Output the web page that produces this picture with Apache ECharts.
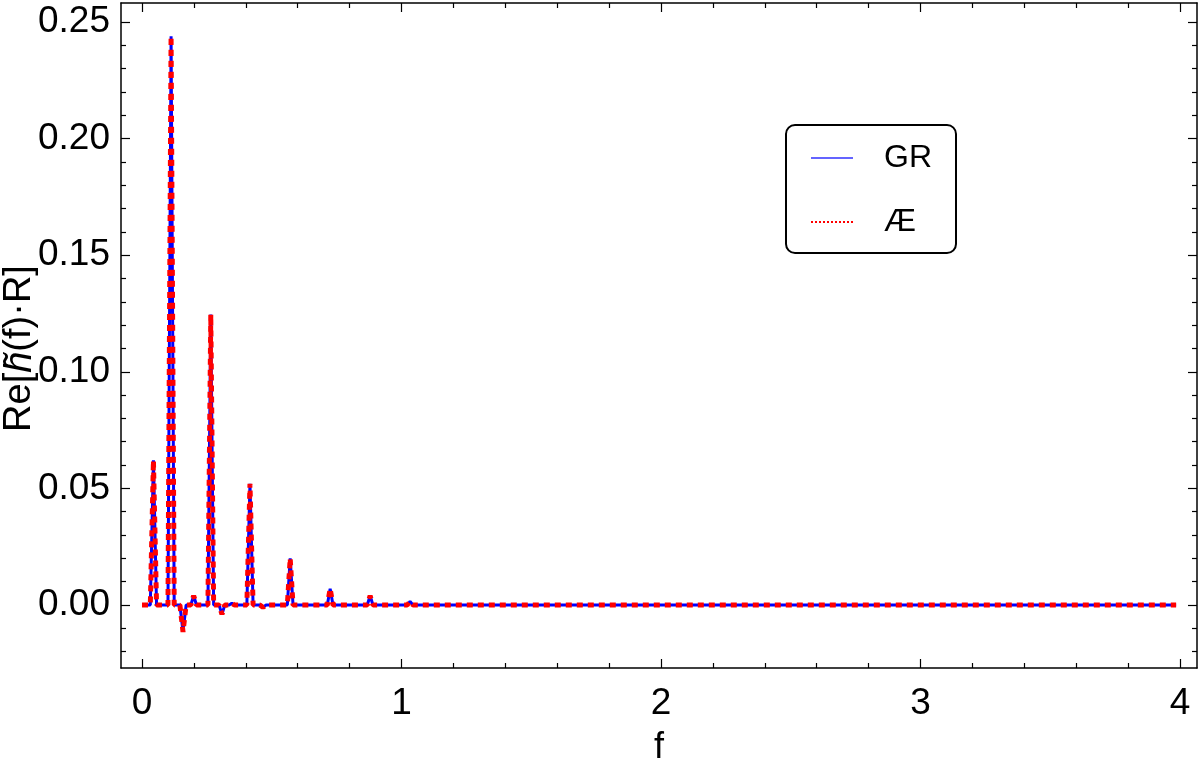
<!DOCTYPE html>
<html>
<head>
<meta charset="utf-8">
<script src="https://cdn.jsdelivr.net/npm/echarts@6/dist/echarts.min.js"></script>
<style>html,body{margin:0;padding:0;background:#fff}#c{width:1200px;height:758px}</style>
</head>
<body>
<div id="c"></div>
<script>
// Frequencies (f) and Re[h(f)R] values
const freq = [0, 0.032, 0.044, 0.056, 0.100, 0.112, 0.124, 0.146, 0.158, 0.170, 0.188, 0.199, 0.210, 0.254, 0.265, 0.276, 0.297, 0.308, 0.319, 0.336, 0.346, 0.356, 0.404, 0.416, 0.428, 0.454, 0.466, 0.478, 0.560, 0.571, 0.582, 0.714, 0.725, 0.736, 0.868, 0.879, 0.890, 1.022, 1.033, 1.044, 3.985];
const grValues = [0, 0, 0.062, 0, 0, 0.2438, 0, 0, -0.0115, 0, 0, 0.004, 0, 0, 0.1245, 0, 0, -0.004, 0, 0, 0.0008, 0, 0, 0.052, 0, 0, -0.001, 0, 0, 0.020, 0, 0, 0.007, 0, 0, 0.004, 0, 0, 0.0015, 0, 0];
const aeValues = [0, 0, 0.062, 0, 0, 0.2438, 0, 0, -0.0115, 0, 0, 0.004, 0, 0, 0.1245, 0, 0, -0.004, 0, 0, 0.0008, 0, 0, 0.052, 0, 0, -0.001, 0, 0, 0.020, 0, 0, 0.007, 0, 0, 0.004, 0, 0, 0.0015, 0, 0];
const seriesNames = ['GR', '\u00C6'];
const xMajorTicks = [0, 1, 2, 3, 4];
const xMinorTicks = [0.2, 0.4, 0.6, 0.8, 1.2, 1.4, 1.6, 1.8, 2.2, 2.4, 2.6, 2.8, 3.2, 3.4, 3.6, 3.8];
const yMajorTicks = [0, 0.05, 0.10, 0.15, 0.20, 0.25];
const yMinorTicks = [-0.02, -0.01, 0.01, 0.02, 0.03, 0.04, 0.06, 0.07, 0.08, 0.09, 0.11, 0.12, 0.13, 0.14, 0.16, 0.17, 0.18, 0.19, 0.21, 0.22, 0.23, 0.24];
const xRange = [-0.081, 4.0655];
const yRange = [-0.027, 0.2581];

const FONT = 'Liberation Sans, Arial, sans-serif';
const LABEL_SIZE = 37;
const grPts = freq.map((f, i) => [f, grValues[i]]);
const aePts = freq.map((f, i) => [f, aeValues[i]]);

function xAx(pos, ticks, len, labels, line) {
  return {
    type: 'value', position: pos, min: xRange[0], max: xRange[1],
    axisLine: { show: line, onZero: false, lineStyle: { color: '#000', width: 1.5 } },
    axisTick: { show: true, inside: true, length: len, customValues: ticks, lineStyle: { color: '#000', width: 1.2 } },
    axisLabel: labels ? { show: true, customValues: ticks, fontSize: LABEL_SIZE, fontFamily: FONT, color: '#000', margin: 17, formatter: v => String(Math.round(v)) } : { show: false },
    splitLine: { show: false }
  };
}
function yAx(pos, ticks, len, labels, line) {
  return {
    type: 'value', position: pos, min: yRange[0], max: yRange[1],
    axisLine: { show: line, onZero: false, lineStyle: { color: '#000', width: 1.5 } },
    axisTick: { show: true, inside: true, length: len, customValues: ticks, lineStyle: { color: '#000', width: 1.2 } },
    axisLabel: labels ? { show: true, customValues: ticks, fontSize: LABEL_SIZE, fontFamily: FONT, color: '#000', margin: 11, formatter: v => v.toFixed(2) } : { show: false },
    splitLine: { show: false }
  };
}

const xAxes = [xAx('bottom', xMajorTicks, 9, true, true), xAx('bottom', xMinorTicks, 5, false, false), xAx('top', xMajorTicks, 9, false, true), xAx('top', xMinorTicks, 5, false, false)];
xAxes[0].name = 'f';
xAxes[0].nameLocation = 'middle';
xAxes[0].nameGap = 62;
xAxes[0].nameMoveOverlap = false;
xAxes[0].nameTextStyle = { fontSize: 36, fontFamily: FONT, color: '#000' };

const yAxes = [yAx('left', yMajorTicks, 9, true, true), yAx('left', yMinorTicks, 5, false, false), yAx('right', yMajorTicks, 9, false, true), yAx('right', yMinorTicks, 5, false, false)];
yAxes[0].name = '{a|Re[}{b|h\u0303}{a|(f)\u00B7R]}';
yAxes[0].nameLocation = 'middle';
yAxes[0].nameGap = 82;
yAxes[0].nameMoveOverlap = false;
yAxes[0].nameTextStyle = {
  fontSize: 38, fontFamily: FONT, color: '#000', padding: [0, 26, 0, 0],
  rich: {
    a: { fontSize: 38, fontFamily: FONT, color: '#000' },
    b: { fontSize: 38, fontFamily: FONT, fontStyle: 'italic', color: '#000' }
  }
};

const chart = echarts.init(document.getElementById('c'), null, { renderer: 'canvas' });
chart.setOption({
  animation: false,
  backgroundColor: '#fff',
  grid: { left: 121, right: 3, top: 3, bottom: 90, containLabel: false, outerBoundsMode: 'none' },
  xAxis: xAxes,
  yAxis: yAxes,
  legend: {
    show: true,
    orient: 'vertical', left: 786, top: 125,
    backgroundColor: '#fff', borderColor: '#000', borderWidth: 2, borderRadius: 9,
    padding: [13, 24, 11, 24],
    itemWidth: 42, itemHeight: 14, itemGap: 24,
    textStyle: { fontSize: 32, fontFamily: FONT, color: '#000', lineHeight: 40, padding: [0, 0, 0, 26] },
    data: [
      { name: seriesNames[0], itemStyle: { opacity: 0 }, lineStyle: { width: 1.5, color: '#3030ff', type: 'solid', opacity: 1 } },
      { name: seriesNames[1], itemStyle: { opacity: 0 }, lineStyle: { width: 2, color: '#ff0000', type: [2, 2], opacity: 1 } }
    ]
  },
  series: [
    {
      name: seriesNames[0], type: 'line', data: grPts, xAxisIndex: 0, yAxisIndex: 0,
      showSymbol: false, symbol: 'none', z: 2,
      lineStyle: { color: '#0000ff', width: 3 }, itemStyle: { color: '#0000ff' }
    },
    {
      name: seriesNames[1], type: 'line', data: aePts, xAxisIndex: 0, yAxisIndex: 0,
      showSymbol: false, symbol: 'none', z: 3,
      lineStyle: { color: '#ff0000', width: 5, type: [6, 5] }, itemStyle: { color: '#ff0000' }
    }
  ]
});
</script>
</body>
</html>
